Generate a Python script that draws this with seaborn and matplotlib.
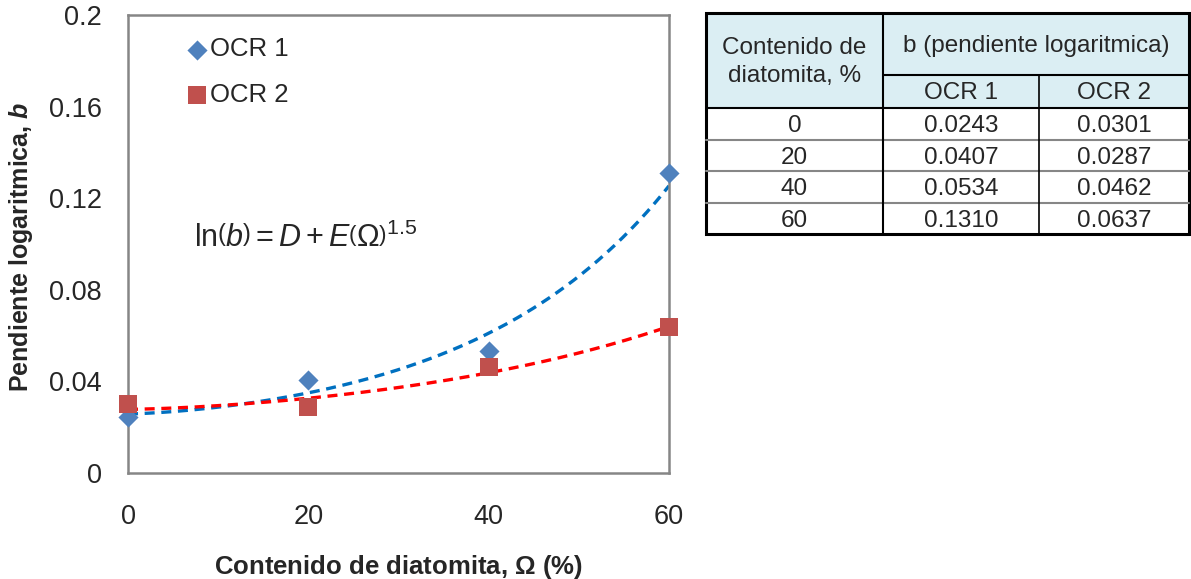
import numpy as np
import pandas as pd
import matplotlib
matplotlib.use("Agg")
import matplotlib.pyplot as plt
import seaborn as sns
from matplotlib.patches import Rectangle

OMEGA = [0, 20, 40, 60]
B_OCR1 = [0.0243, 0.0407, 0.0534, 0.1310]
B_OCR2 = [0.0301, 0.0287, 0.0462, 0.0637]
SERIES = ["OCR 1", "OCR 2"]
X_TICKS = [0, 20, 40, 60]
Y_TICKS = [0, 0.04, 0.08, 0.12, 0.16, 0.2]
Y_TICK_LABELS = ["0", "0.04", "0.08", "0.12", "0.16", "0.2"]

BLUE_PT = "#4F81BD"
RED_PT = "#C0504D"
BLUE_FIT = "#0070C0"
RED_FIT = "#FF0000"
GRAY = "#868686"
HEAD_FILL = "#DBEEF3"

sns.set_style("white")
plt.rcParams["font.family"] = ["Liberation Sans", "DejaVu Sans"]
plt.rcParams["mathtext.fontset"] = "custom"
plt.rcParams["mathtext.rm"] = "Liberation Sans"
plt.rcParams["mathtext.it"] = "Liberation Sans:italic"
plt.rcParams["mathtext.bf"] = "Liberation Sans:bold"
plt.rcParams["mathtext.bfit"] = "Liberation Sans:italic:bold"

df1 = pd.DataFrame({"omega": OMEGA, "b": B_OCR1})
df2 = pd.DataFrame({"omega": OMEGA, "b": B_OCR2})


def fit_curve(x, y):
    # ln(b) = D + E * omega^1.5, least squares
    E, D = np.polyfit(np.power(x, 1.5), np.log(y), 1)
    xs = np.linspace(0, 60, 200)
    return pd.DataFrame({"omega": xs, "b": np.exp(D + E * xs ** 1.5)})


fig = plt.figure(figsize=(11.91, 5.79), dpi=100)
ax = fig.add_axes([128 / 1191, 1 - 473 / 579, 541 / 1191, 458 / 579])

# Fit lines
fit1 = fit_curve(np.array(OMEGA, float), np.array(B_OCR1))
fit2 = fit_curve(np.array(OMEGA, float), np.array(B_OCR2))
sns.lineplot(data=fit1, x="omega", y="b", ax=ax, color=BLUE_FIT, lw=2.4,
             legend=False)
sns.lineplot(data=fit2, x="omega", y="b", ax=ax, color=RED_FIT, lw=2.4,
             legend=False)
for ln in ax.lines:
    ln.set_dashes([3, 2])

# Points
sns.scatterplot(data=df1, x="omega", y="b", color=BLUE_PT, marker="D",
                s=105, linewidth=0, ax=ax, clip_on=False, zorder=5,
                label=SERIES[0])
sns.scatterplot(data=df2, x="omega", y="b", color=RED_PT, marker="s",
                s=150, linewidth=0, ax=ax, clip_on=False, zorder=5,
                label=SERIES[1])

ax.set_xlim(0, 60)
ax.set_ylim(0, 0.2)
ax.set_xticks(X_TICKS)
ax.set_yticks(Y_TICKS)
ax.set_yticklabels(Y_TICK_LABELS)
ax.tick_params(axis="both", direction="out", length=5, width=1.2,
               color=GRAY, labelsize=19.5)
ax.tick_params(axis="y", pad=14)
ax.tick_params(axis="x", pad=17)
for sp in ax.spines.values():
    sp.set_visible(True)
    sp.set_color(GRAY)
    sp.set_linewidth(1.8)

ax.set_xlabel(r"Contenido de diatomita, $\mathbf{\Omega}$ (%)", fontsize=18.5,
              fontweight="bold", labelpad=17)
ax.set_ylabel(r"Pendiente logaritmica, $\mathbfit{b}$", fontsize=18,
              fontweight="bold", va="center")
ax.yaxis.set_label_coords(-(128 - 21) / 541, (473 - 247) / 458)

leg = ax.legend(loc="upper left", bbox_to_anchor=(0.068, 0.985), frameon=False,
                fontsize=18.5, handletextpad=-0.15, labelspacing=0.85,
                handlelength=1.3, borderaxespad=0.2)

ax.text(7.3, 0.1025, r"$\ln\!\left(b\right) = D + E\left(\Omega\right)^{1.5}$",
        fontsize=22, va="center", ha="left")

# Table drawn in pixel coordinates
tab = fig.add_axes([0, 0, 1, 1])
tab.set_xlim(0, 1191)
tab.set_ylim(579, 0)
tab.axis("off")

x0, x1, x2, x3 = 706, 883, 1039, 1189
y_top, y_sub, y_head = 13, 75, 108
row_h = 31.5
rows_y = [y_head + i * row_h for i in range(5)]
FS = 17.5

tab.add_patch(Rectangle((x0, y_top), x3 - x0, y_head - y_top,
                        facecolor=HEAD_FILL, edgecolor="none"))
# horizontal lines
tab.plot([x1, x3], [y_sub, y_sub], color="black", lw=1.5)
tab.plot([x0, x3], [y_head, y_head], color="black", lw=1.5)
for yy in rows_y[1:-1]:
    tab.plot([x0, x3], [yy, yy], color=GRAY, lw=1.5)
# vertical lines
tab.plot([x1, x1], [y_top, rows_y[-1]], color="black", lw=1.5)
tab.plot([x2, x2], [y_sub, rows_y[-1]], color="black", lw=1.2)
# outer border
tab.add_patch(Rectangle((x0, y_top), x3 - x0, rows_y[-1] - y_top,
                        facecolor="none", edgecolor="black", lw=2.2))

tab.text((x0 + x1) / 2, 62, "Contenido de\ndiatomita, %",
         ha="center", va="center", fontsize=FS, linespacing=1.3)
tab.text((x1 + x3) / 2, 46, "b (pendiente logaritmica)",
         ha="center", va="center", fontsize=FS)
tab.text((x1 + x2) / 2, 93, SERIES[0], ha="center", va="center", fontsize=FS)
tab.text((x2 + x3) / 2, 93, SERIES[1], ha="center", va="center", fontsize=FS)
for i, om in enumerate(OMEGA):
    yc = rows_y[i] + row_h / 2 + 2.5
    tab.text((x0 + x1) / 2, yc, str(om), ha="center", va="center", fontsize=FS)
    tab.text((x1 + x2) / 2, yc, f"{B_OCR1[i]:.4f}", ha="center", va="center",
             fontsize=FS)
    tab.text((x2 + x3) / 2, yc, f"{B_OCR2[i]:.4f}", ha="center", va="center",
             fontsize=FS)

fig.savefig("out.png", dpi=100)
